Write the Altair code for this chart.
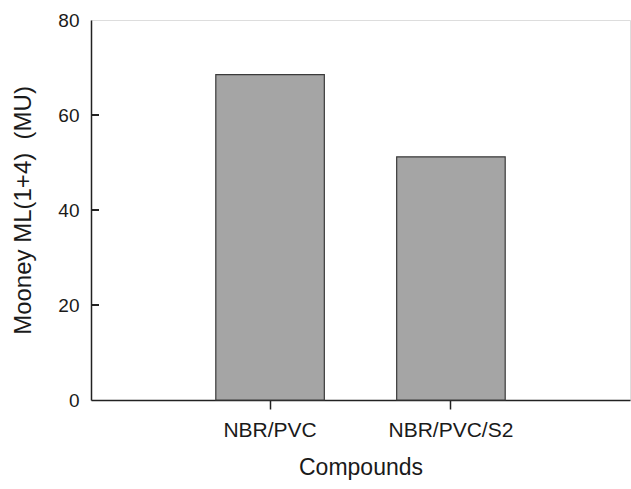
import altair as alt
import pandas as pd

compounds = ["NBR/PVC", "NBR/PVC/S2"]
mooney = [68.5, 51.2]
y_ticks = [0, 20, 40, 60, 80]
inner_ticks = [20, 40, 60]

bars_df = pd.DataFrame({"Compound": compounds, "Mooney": mooney})
ticks_df = pd.DataFrame({"Mooney": inner_ticks})

font = "Liberation Sans"

x_enc = alt.X(
    "Compound:N",
    sort=compounds,
    scale=alt.Scale(paddingInner=0.4, paddingOuter=0.69),
    axis=alt.Axis(
        title="Compounds", labelAngle=0, labelFontSize=21, titleFontSize=23,
        labelPadding=10, titlePadding=16, tickSize=9, tickColor="#222",
        tickWidth=1.5, domainColor="#222", domainWidth=1.5,
        labelColor="#1a1a1a", titleColor="#1a1a1a", labelFont=font,
        titleFont=font, titleFontWeight="normal", grid=False,
    ),
)

y_scale = alt.Scale(domain=[0, 80], nice=False)
y_axis = alt.Axis(
    title="Mooney ML(1+4)\u00a0 (MU)", values=y_ticks, ticks=False,
    labelFontSize=19, titleFontSize=24, labelPadding=12,
    titlePadding=22, domainColor="#222", domainWidth=1.5,
    labelColor="#1a1a1a", titleColor="#1a1a1a", labelFont=font,
    titleFont=font, titleFontWeight="normal", grid=False,
)

bars = alt.Chart(bars_df).mark_bar(
    color="#a5a5a5", stroke="#3a3a3a", strokeWidth=1.2
).encode(
    x=x_enc,
    y=alt.Y("Mooney:Q", scale=y_scale, axis=y_axis),
)

yticks = alt.Chart(ticks_df).mark_rule(
    color="#222", strokeWidth=2
).encode(
    y=alt.Y("Mooney:Q", scale=y_scale, axis=y_axis),
    x=alt.value(0),
    x2=alt.value(8),
)

chart = alt.layer(bars, yticks).properties(
    width=539, height=380,
    autosize=alt.AutoSizeParams(type="none"),
    padding={"left": 91, "top": 20, "right": 1, "bottom": 89},
).configure_view(stroke="#222", strokeWidth=1.5).configure(background="white")

chart.save("out.html", embed_options={"renderer": "svg", "actions": False})
